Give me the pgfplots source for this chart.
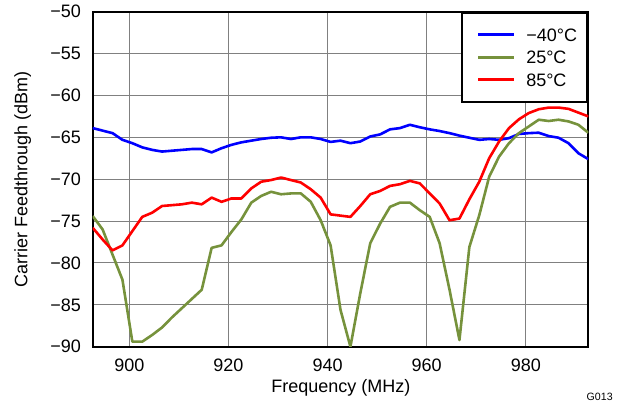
\documentclass[border=0pt]{standalone}
\usepackage{fontspec}
\setmainfont{Liberation Sans}
\usepackage{pgfplots}
\pgfplotsset{compat=1.18}
\usepackage{pgfplotstable}

\definecolor{cblue}{RGB}{0,0,255}
\definecolor{cgreen}{RGB}{118,146,60}
\definecolor{cred}{RGB}{255,0,0}
\definecolor{cgrid}{RGB}{128,128,128}
\newcommand\ff{\fontsize{18pt}{21pt}\selectfont}

\pgfplotstableread{
f     blue    green   red
892.6 -63.9   -74.4   -75.8
894.6 -64.2   -76.0   -77.2
896.6 -64.5   -79.0   -78.5
898.6 -65.3   -82.0   -77.9
900.6 -65.7   -89.4   -76.2
902.6 -66.2   -89.4   -74.5
904.6 -66.5   -88.6   -74.0
906.6 -66.7   -87.7   -73.2
908.6 -66.6   -86.5   -73.1
910.6 -66.5   -85.4   -73.0
912.6 -66.4   -84.3   -72.8
914.6 -66.4   -83.2   -73.0
916.6 -66.8   -78.2   -72.2
918.6 -66.3   -77.9   -72.7
920.6 -65.9   -76.3   -72.3
922.6 -65.6   -74.8   -72.3
924.6 -65.4   -72.8   -71.1
926.6 -65.2   -72.0   -70.3
928.6 -65.05  -71.5   -70.1
930.6 -65.0   -71.8   -69.8
932.6 -65.2   -71.7   -70.1
934.6 -65.0   -71.7   -70.4
936.6 -65.0   -72.7   -71.2
938.6 -65.2   -74.9   -72.2
940.6 -65.55  -77.9   -74.2
942.6 -65.4   -85.6   -74.35
944.6 -65.7   -90.0   -74.5
946.6 -65.5   -83.6   -73.2
948.6 -64.9   -77.65  -71.8
950.6 -64.65  -75.3   -71.4
952.6 -64.05  -73.3   -70.8
954.6 -63.9   -72.8   -70.6
956.6 -63.5   -72.8   -70.2
958.6 -63.8   -73.7   -70.5
960.6 -64.05  -74.5   -71.7
962.6 -64.25  -77.65  -72.9
964.6 -64.5   -83.2   -74.9
966.6 -64.8   -89.2   -74.7
968.6 -65.05  -78.1   -72.4
970.6 -65.3   -74.3   -70.3
972.6 -65.2   -69.7   -67.5
974.6 -65.3   -67.3   -65.5
976.6 -65.1   -65.7   -63.9
978.6 -64.6   -64.5   -62.85
980.6 -64.5   -63.7   -62.1
982.6 -64.45  -62.9   -61.65
984.6 -64.85  -63.05  -61.45
986.6 -65.05  -62.9   -61.45
988.6 -65.7   -63.1   -61.6
990.6 -66.9   -63.5   -62.05
992.6 -67.6   -64.45  -62.5
}\data

\begin{document}
\begin{tikzpicture}
\useasboundingbox (-92.7pt,-56.3pt) rectangle (528.3pt,346.7pt);
\begin{axis}[
  at={(0pt,0pt)}, anchor=south west,
  scale only axis, width=495.6pt, height=335pt,
  xmin=892.6, xmax=992.6, ymin=-90, ymax=-50,
  xtick={900,920,940,960,980},
  ytick={-90,-85,-80,-75,-70,-65,-60,-55,-50},
  yticklabels={−90,−85,−80,−75,−70,−65,−60,−55,−50},
  /pgf/number format/assume math mode=true,
  xticklabel style={font=\ff, inner sep=0pt, anchor=north, yshift=-11.8pt},
  yticklabel style={font=\ff, inner sep=0pt, anchor=east, xshift=-11.7pt},
  major tick length=0pt,
  grid=major,
  major grid style={cgrid, line width=1pt},
  axis line style={line width=2.2pt},
  xlabel={Frequency (MHz)},
  ylabel={Carrier Feedthrough (dBm)},
  xlabel style={font=\ff, at={(axis description cs:0.5006,-0.123)}, anchor=center},
  ylabel style={font=\ff, at={(axis description cs:-0.1413,0.5)}, anchor=center, rotate=0},
  legend style={at={(1,1)}, anchor=north east, draw=black, line width=2pt, fill=white,
    inner xsep=15.3pt, inner ysep=15.5pt, font=\ff, row sep=9.5pt,
    nodes={inner sep=0pt, text height=13pt, text depth=0pt},
    /tikz/every odd column/.append style={column sep=10.6pt}},
  legend cell align=left,
  legend image code/.code={\draw[#1, line width=2.8pt] (0pt,0pt) -- (36pt,0pt);},
]
\addplot[cblue, line width=2.6pt, line join=round] table[x=f, y=blue] {\data};
\addlegendentry{−40°C\hspace*{-5pt}}
\addplot[cgreen, line width=2.6pt, line join=round] table[x=f, y=green] {\data};
\addlegendentry{25°C}
\addplot[cred, line width=2.6pt, line join=round] table[x=f, y=red] {\data};
\addlegendentry{85°C}
\end{axis}
\node[font=\fontsize{10.6pt}{12pt}\selectfont, anchor=center] at (507pt,-50.6pt) {G013};
\end{tikzpicture}
\end{document}
